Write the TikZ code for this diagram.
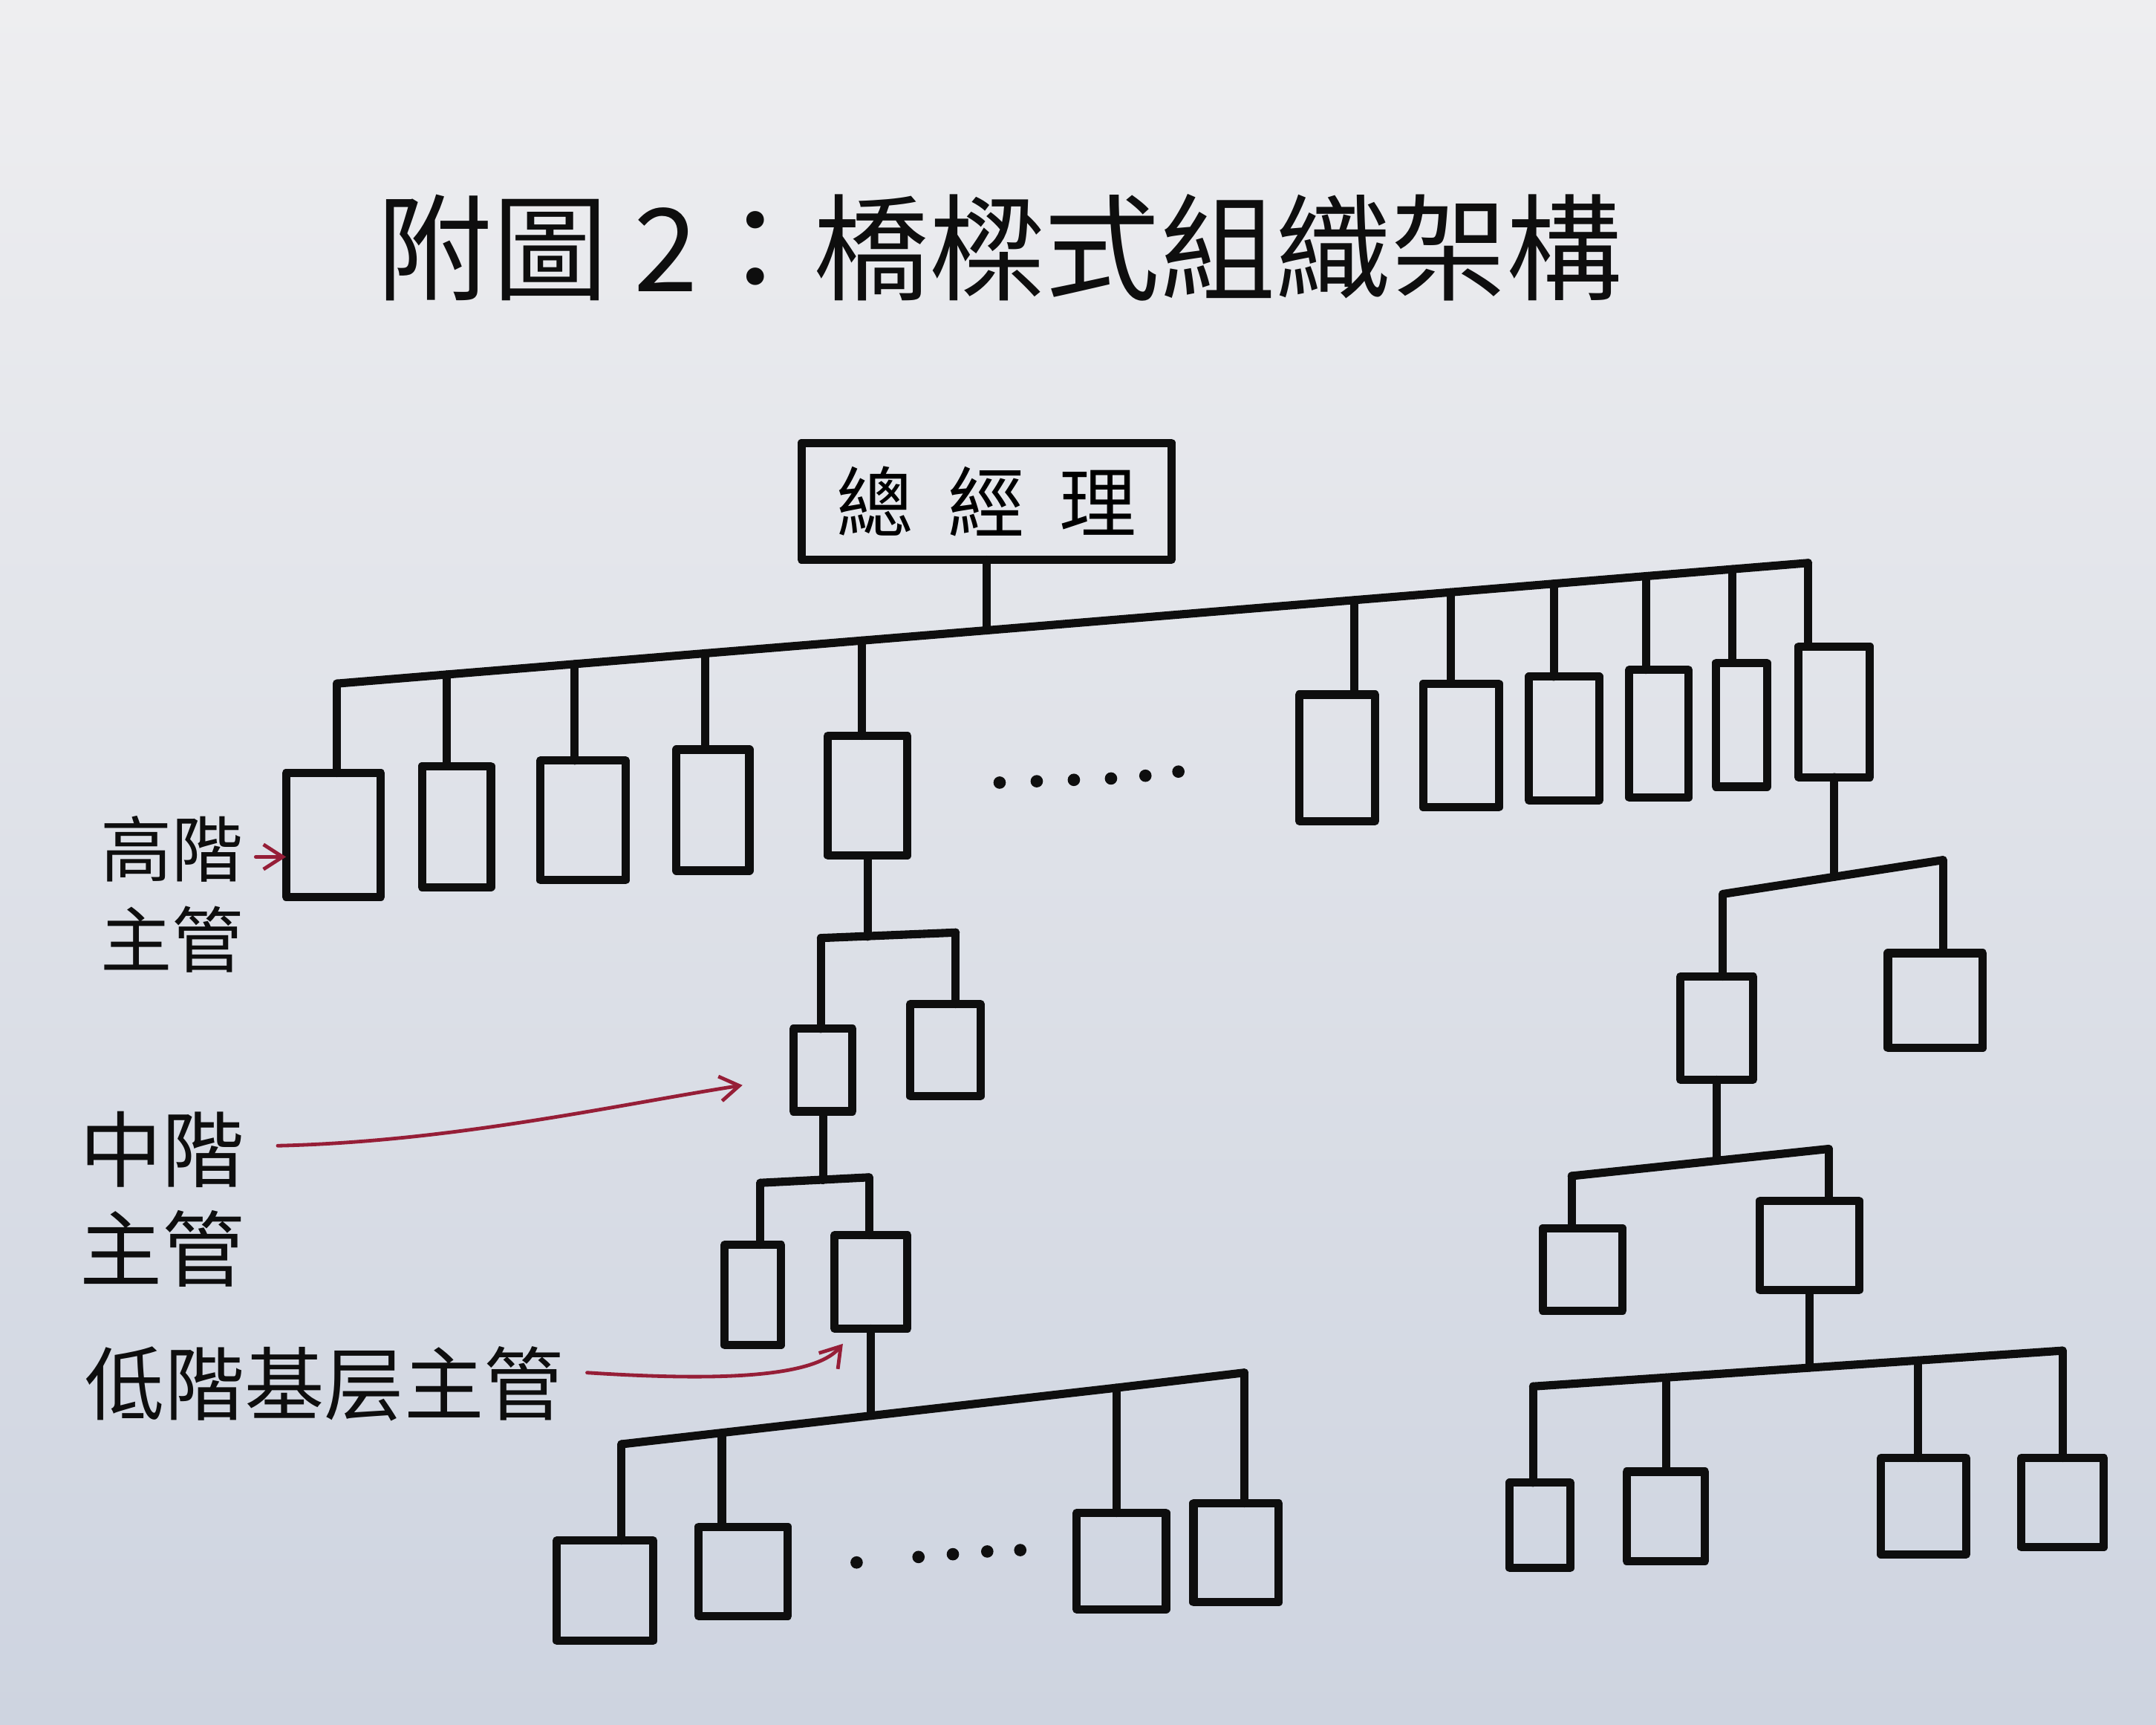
\documentclass[tikz,border=0pt]{standalone}
\usepackage{fontspec}
\newfontfamily\cjk{Noto Sans CJK TC}
\usetikzlibrary{arrows.meta,calc}
\definecolor{ink}{RGB}{14,14,14}
\definecolor{redink}{RGB}{150,30,55}
\definecolor{papertop}{RGB}{238,238,240}
\definecolor{paperbot}{RGB}{206,212,224}
\newcommand\orgbox[5]{\node[orgbox, minimum width={(#4-#2)*0.5pt}, minimum height={(#5-#3)*0.5pt}] (#1) at ({(#2+#4)/2},{(#3+#5)/2}) {};}
\begin{document}
\begin{tikzpicture}[x=0.5pt,y=-0.5pt,
  orgbox/.style={draw=ink,line width=3pt,inner sep=0pt,outer sep=0pt,line join=round},
  link/.style={draw=ink,line width=3pt,line cap=round,line join=round},
  lbl/.style={text=ink,align=center,inner sep=0pt},
  redarrow/.style={draw=redink,line width=1.3pt,line cap=round,-{Straight Barb[length=7pt,width=9pt]}},
  dotmark/.style={fill=ink,circle,inner sep=0pt,minimum size=4.5pt}]
\shade[top color=papertop,bottom color=paperbot] (0,0) rectangle (1568,1254);
\useasboundingbox (0,0) rectangle (1568,1254);

% title
\node[lbl,font=\cjk\fontsize{42}{50}\selectfont] (title) at (727,180) {附圖 2：橋樑式組織架構};

% CEO
\node[orgbox,minimum width={269*0.5pt},minimum height={85*0.5pt},font=\cjk\fontsize{28}{34}\selectfont] (ceo) at (717.5,364.5) {總\hspace{0.45em}經\hspace{0.45em}理};

% top level boxes
\orgbox{h1}{208}{562}{277}{652}
\orgbox{h2}{307}{557}{357}{645}
\orgbox{h3}{393}{553}{455}{640}
\orgbox{h4}{492}{545}{545}{633}
\orgbox{h5}{602}{535}{660}{622}
\orgbox{r1}{945}{505}{1000}{597}
\orgbox{r2}{1035}{497}{1090}{587}
\orgbox{r3}{1112}{492}{1163}{582}
\orgbox{r4}{1185}{487}{1228}{580}
\orgbox{r5}{1248}{482}{1285}{572}
\orgbox{r6}{1308}{470}{1360}{565}

% top bus
\coordinate (t1) at (245,497);
\coordinate (t2) at (325,490.4);
\coordinate (t3) at (418,482.8);
\coordinate (t4) at (513,475);
\coordinate (t5) at (627,465.7);
\coordinate (tc) at (717.5,458.3);
\coordinate (t6) at (985,436.3);
\coordinate (t7) at (1055,430.6);
\coordinate (t8) at (1130,424.4);
\coordinate (t9) at (1197,418.9);
\coordinate (t10) at (1260,413.8);
\coordinate (t11) at (1315,409.3);
\draw[link] (t1) -- (t2) -- (t3) -- (t4) -- (t5) -- (tc) -- (t6) -- (t7) -- (t8) -- (t9) -- (t10) -- (t11);
\draw[link] (ceo.south) -- (tc);
\draw[link] (t1) -- (t1 |- h1.north);
\draw[link] (t2) -- (t2 |- h2.north);
\draw[link] (t3) -- (t3 |- h3.north);
\draw[link] (t4) -- (t4 |- h4.north);
\draw[link] (t5) -- (t5 |- h5.north);
\draw[link] (t6) -- (t6 |- r1.north);
\draw[link] (t7) -- (t7 |- r2.north);
\draw[link] (t8) -- (t8 |- r3.north);
\draw[link] (t9) -- (t9 |- r4.north);
\draw[link] (t10) -- (t10 |- r5.north);
\draw[link] (t11) -- (t11 |- r6.north);

% dots
\node[dotmark] (td1) at (727,569) {};
\node[dotmark] (td2) at (754,568) {};
\node[dotmark] (td3) at (781,567) {};
\node[dotmark] (td4) at (808,566) {};
\node[dotmark] (td5) at (833,564) {};
\node[dotmark] (td6) at (857,561) {};

% left branch: middle managers
\orgbox{m1}{577}{748}{620}{808}
\orgbox{m2}{662}{730}{713}{797}
\coordinate (a1) at (597,682);
\coordinate (a2) at (695,678);
\draw[link] (h5.south) -- (h5.south |- 0,681);
\draw[link] (a1) -- (a2);
\draw[link] (a1) -- (a1 |- m1.north);
\draw[link] (a2) -- (a2 |- m2.north);

\orgbox{m3}{527}{905}{568}{978}
\orgbox{m4}{607}{898}{660}{966}
\coordinate (b1) at (553,860);
\coordinate (b2) at (632,856);
\draw[link] (m1.south) -- (m1.south |- 0,858);
\draw[link] (b1) -- (b2);
\draw[link] (b1) -- (b1 |- m3.north);
\draw[link] (b2) -- (b2 |- m4.north);

% left branch: lowest level
\orgbox{l1}{405}{1120}{475}{1193}
\orgbox{l2}{508}{1110}{573}{1175}
\orgbox{l3}{783}{1100}{848}{1170}
\orgbox{l4}{868}{1093}{930}{1165}
\coordinate (c1) at (452,1050);
\coordinate (c2) at (525,1041.7);
\coordinate (cc) at (633.5,1029.3);
\coordinate (c3) at (812,1009);
\coordinate (c4) at (905,998);
\draw[link] (c1) -- (c2) -- (cc) -- (c3) -- (c4);
\draw[link] (m4.south) -- (cc);
\draw[link] (c1) -- (c1 |- l1.north);
\draw[link] (c2) -- (c2 |- l2.north);
\draw[link] (c3) -- (c3 |- l3.north);
\draw[link] (c4) -- (c4 |- l4.north);
\node[dotmark] (bd1) at (623,1136) {};
\node[dotmark] (bd2) at (668,1132) {};
\node[dotmark] (bd3) at (693,1130) {};
\node[dotmark] (bd4) at (718,1128) {};
\node[dotmark] (bd5) at (742,1127) {};

% right branch
\orgbox{n1}{1222}{710}{1275}{785}
\orgbox{n2}{1373}{693}{1442}{762}
\coordinate (e1) at (1253,650);
\coordinate (ec) at (1334,637.5);
\coordinate (e2) at (1413,625.3);
\draw[link] (e1) -- (ec) -- (e2);
\draw[link] (r6.south) -- (ec);
\draw[link] (e1) -- (e1 |- n1.north);
\draw[link] (e2) -- (e2 |- n2.north);

\orgbox{n3}{1122}{893}{1180}{953}
\orgbox{n4}{1280}{873}{1352}{938}
\coordinate (f1) at (1143,855);
\coordinate (fc) at (1248.5,843.9);
\coordinate (f2) at (1330,835.3);
\draw[link] (f1) -- (fc) -- (f2);
\draw[link] (n1.south) -- (fc);
\draw[link] (f1) -- (f1 |- n3.north);
\draw[link] (f2) -- (f2 |- n4.north);

\orgbox{q1}{1098}{1078}{1142}{1140}
\orgbox{q2}{1183}{1070}{1240}{1135}
\orgbox{q3}{1368}{1060}{1430}{1130}
\orgbox{q4}{1470}{1060}{1530}{1125}
\coordinate (g1) at (1115,1008);
\coordinate (g2) at (1212,1001.5);
\coordinate (gc) at (1316,994.4);
\coordinate (g3) at (1395,989.1);
\coordinate (g4) at (1500,982);
\draw[link] (g1) -- (g2) -- (gc) -- (g3) -- (g4);
\draw[link] (n4.south) -- (gc);
\draw[link] (g1) -- (g1 |- q1.north);
\draw[link] (g2) -- (g2 |- q2.north);
\draw[link] (g3) -- (g3 |- q3.north);
\draw[link] (g4) -- (g4 |- q4.north);

% labels
\node[lbl,font=\cjk\fontsize{26}{33}\selectfont] (hiLbl) at (125,650) {高階\\主管};
\node[lbl,font=\cjk\fontsize{30}{36}\selectfont] (midLbl) at (118,872) {中階\\主管};
\node[lbl,font=\cjk\fontsize{29}{34}\selectfont] (lowLbl) at (236,1006) {低階基层主管};

% red arrows
\coordinate (ra1) at (186,623);
\draw[redarrow] (ra1) -- (ra1 -| h1.west);
\coordinate (ra2s) at (202,833);
\coordinate (ra2e) at (540,789);
\draw[redarrow] (ra2s) .. controls (330,830) and (450,803) .. (ra2e);
\coordinate (ra3s) at (427,998);
\coordinate (ra3e) at (613,977);
\draw[redarrow] (ra3s) .. controls (520,1004) and (592,1002) .. (ra3e);
\end{tikzpicture}
\end{document}
